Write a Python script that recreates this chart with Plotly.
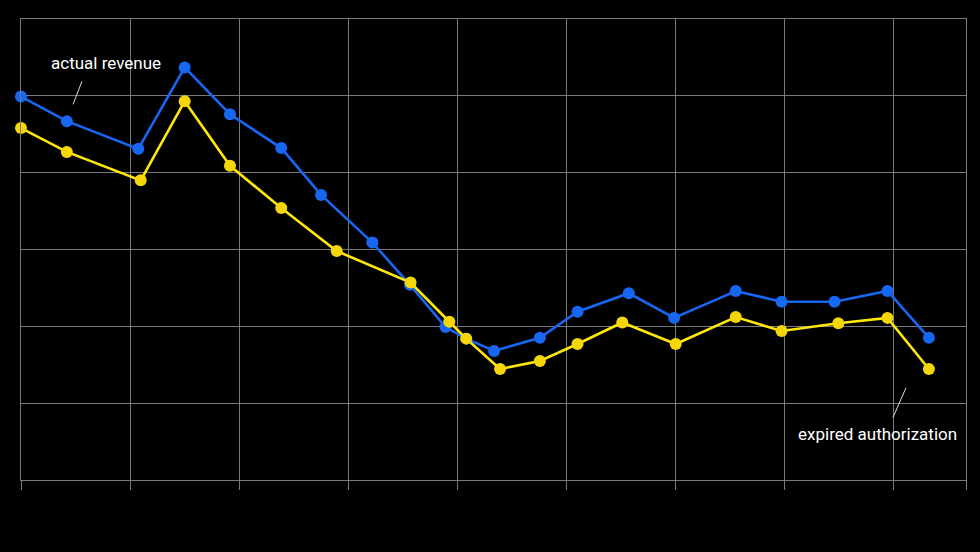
import plotly.graph_objects as go

# Data (x positions in grid units, y values in grid units)
blue_x = [0.0, 0.42, 1.075, 1.50, 1.915, 2.385, 2.75, 3.22, 3.565, 3.89, 4.08,
          4.335, 4.755, 5.10, 5.57, 5.985, 6.55, 6.97, 7.455, 7.94, 8.32]
blue_y = [4.99, 4.67, 4.31, 5.37, 4.76, 4.32, 3.71, 3.09, 2.54, 1.99, 1.84,
          1.68, 1.85, 2.19, 2.43, 2.11, 2.46, 2.32, 2.32, 2.46, 1.85]

yellow_x = [0.0, 0.42, 1.097, 1.50, 1.915, 2.385, 2.893, 3.57, 3.925, 4.08,
            4.39, 4.755, 5.10, 5.51, 6.00, 6.55, 6.97, 7.49, 7.94, 8.32]
yellow_y = [4.58, 4.27, 3.90, 4.93, 4.09, 3.54, 2.98, 2.57, 2.06, 1.84,
            1.445, 1.55, 1.77, 2.05, 1.77, 2.12, 1.94, 2.04, 2.11, 1.445]

x_ticks = [0, 1, 2, 3, 4, 5, 6, 7, 8, 8.66]
y_ticks = [0, 1, 2, 3, 4, 5, 6]

label_actual = "actual revenue"
label_expired = "expired authorization"

GRID = "#7a7a7a"
BLUE = "#1767F2"
YELLOW_LINE = "#FFE70A"
YELLOW_MARK = "#F5D708"

fig = go.Figure()
fig.add_trace(go.Scatter(
    x=blue_x, y=blue_y, mode="lines+markers",
    line=dict(color=BLUE, width=2.6),
    marker=dict(color=BLUE, size=12),
    cliponaxis=False,
    showlegend=False, hoverinfo="skip"))
fig.add_trace(go.Scatter(
    x=yellow_x, y=yellow_y, mode="lines+markers",
    line=dict(color=YELLOW_LINE, width=2.6),
    marker=dict(color=YELLOW_MARK, size=12),
    cliponaxis=False,
    showlegend=False, hoverinfo="skip"))

fig.add_annotation(x=0.78, y=5.43, text=label_actual, showarrow=False,
                   font=dict(family="Roboto", size=17, color="white"))
fig.add_annotation(x=7.845, y=0.60, text=label_expired, showarrow=False,
                   font=dict(family="Roboto", size=17, color="white"))
fig.add_shape(type="line", x0=0.559, y0=5.19, x1=0.477, y1=4.89,
              line=dict(color="#dddddd", width=1))
fig.add_shape(type="line", x0=8.11, y0=1.20, x1=7.99, y1=0.81,
              line=dict(color="#dddddd", width=1))

fig.update_layout(
    width=980, height=552,
    paper_bgcolor="black", plot_bgcolor="black",
    margin=dict(l=21, r=14, t=19, b=72),
    showlegend=False,
)
fig.update_xaxes(range=[0, 8.66], tickvals=x_ticks, showticklabels=False,
                 showgrid=True, gridcolor=GRID, gridwidth=1.3,
                 ticks="outside", ticklen=9, tickcolor=GRID, tickwidth=1.3,
                 showline=True, linecolor=GRID, linewidth=1.3, mirror=True,
                 zeroline=False, fixedrange=True)
fig.update_yaxes(range=[0, 6], tickvals=y_ticks, showticklabels=False,
                 showgrid=True, gridcolor=GRID, gridwidth=1.3,
                 showline=True, linecolor=GRID, linewidth=1.3, mirror=True,
                 zeroline=False, fixedrange=True)

fig.write_html("out.html")
